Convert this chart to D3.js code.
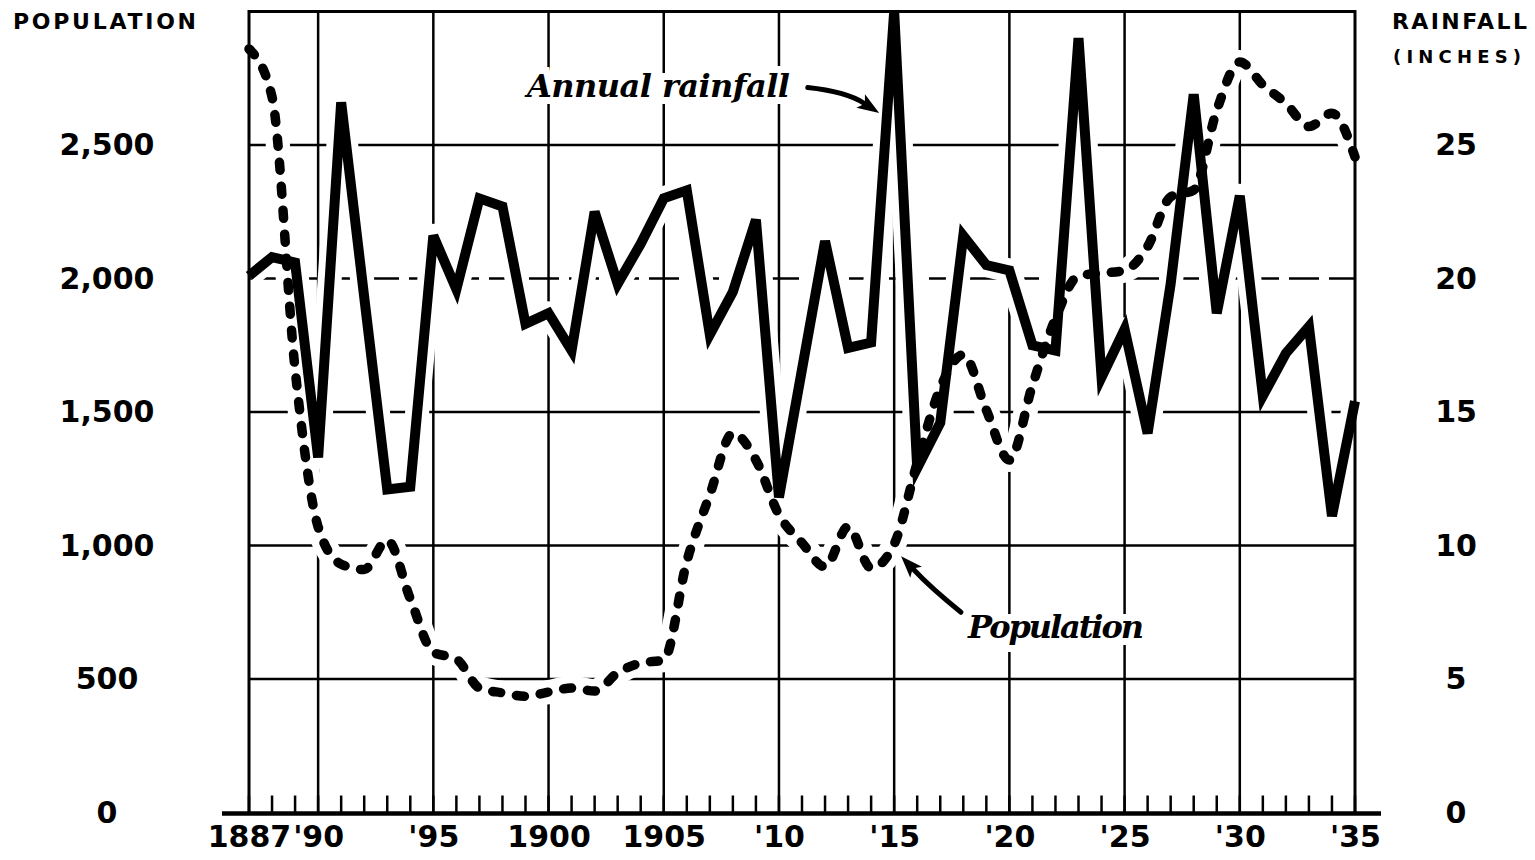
<!DOCTYPE html>
<html>
<head>
  <meta charset="utf-8">
  <title>Population and Annual Rainfall, 1887-1935</title>
  <script src="https://d3js.org/d3.v7.min.js"></script>
  <style>
    body {
      margin: 0;
      background: #fff;
    }

    .axis-label {
      font-family: "DejaVu Sans", sans-serif;
      font-weight: bold;
      fill: #000;
    }

    .note {
      font-family: "DejaVu Serif", serif;
      font-style: italic;
      font-weight: bold;
      fill: #000;
    }

    .note.halo {
      fill: #fff;
      stroke: #fff;
      stroke-width: 14px;
    }
  </style>
</head>
<body>
  <svg id="chart" width="1535" height="860"></svg>

  <script type="text/javascript">
    /* Values */
    var years = d3.range(1887, 1936);

    var rainfall = [
      20.1, 20.8, 20.6, 13.3, 26.6, 19.3, 12.1, 12.2, 21.6, 19.6,
      23.0, 22.7, 18.3, 18.7, 17.3, 22.5, 19.8, 21.3, 23.0, 23.3,
      17.9, 19.5, 22.2, 11.8, 16.6, 21.4, 17.4, 17.6, 30.0, 12.9,
      14.6, 21.6, 20.5, 20.3, 17.5, 17.3, 29.0, 16.3, 18.1, 14.2,
      19.8, 26.9, 18.7, 23.1, 15.6, 17.2, 18.2, 11.1, 15.4
    ];

    var population = [
      2860, 2680, 1660, 1070, 930, 910, 1020, 800, 600, 575,
      466, 448, 435, 451, 466, 455, 523, 560, 571, 940,
      1190, 1421, 1320, 1115, 1010, 920, 1070, 915, 1005, 1310,
      1590, 1715, 1507, 1320, 1600, 1850, 2010, 2020, 2030, 2120,
      2306, 2331, 2630, 2811, 2725, 2656, 2569, 2619, 2455
    ];

    var yearTicks = [1887, 1890, 1895, 1900, 1905, 1910, 1915, 1920, 1925, 1930, 1935];
    var yearLabels = ["1887", "'90", "'95", "1900", "1905", "'10", "'15", "'20", "'25", "'30", "'35"];
    var popTicks = [0, 500, 1000, 1500, 2000, 2500];
    var rainTicks = [0, 5, 10, 15, 20, 25];

    var rainNote = "Annual rainfall";
    var popNote = "Population";

    var svg = d3.select("#chart");

    /* Scales: both y scales share the same pixel range */
    var x = d3.scaleLinear().domain([1887, 1935]).range([249, 1355]);
    var yPop = d3.scaleLinear().domain([0, 3000]).range([812.5, 11.5]);
    var yRain = d3.scaleLinear().domain([0, 30]).range([812.5, 11.5]);

    var rows = years.map(function(d, i) {
      return { year: d, rain: rainfall[i], pop: population[i] };
    });

    /* Grid */
    var grid = svg.append("g").attr("stroke", "#000").attr("stroke-width", 2.5);

    grid.selectAll("line.h")
        .data(popTicks.filter(function(d) { return d > 0; }))
        .enter().append("line")
        .attr("class", "h")
        .attr("x1", x(1887)).attr("x2", x(1935))
        .attr("y1", function(d) { return yPop(d); })
        .attr("y2", function(d) { return yPop(d); })
        .attr("stroke-dasharray", function(d) { return d === 2000 ? "30,10" : null; });

    grid.selectAll("line.v")
        .data(yearTicks.slice(1, -1))
        .enter().append("line")
        .attr("class", "v")
        .attr("x1", function(d) { return x(d); })
        .attr("x2", function(d) { return x(d); })
        .attr("y1", yPop(3000)).attr("y2", yPop(0));

    /* Lines */
    var rainLine = d3.line()
        .x(function(d) { return x(d.year); })
        .y(function(d) { return yRain(d.rain); });

    var popLine = d3.line()
        .curve(d3.curveMonotoneX)
        .x(function(d) { return x(d.year); })
        .y(function(d) { return yPop(d.pop); });

    // white halo so the grid breaks around the curves, as in the print
    [rainLine, popLine].forEach(function(l) {
      svg.append("path")
         .datum(rows)
         .attr("d", l)
         .attr("fill", "none")
         .attr("stroke", "#fff")
         .attr("stroke-width", 24)
         .attr("stroke-linejoin", "round");
    });

    /* Frame, baseline and yearly ticks */
    var frame = svg.append("g").attr("stroke", "#000");

    frame.append("path")
         .attr("d", "M" + x(1887) + "," + yPop(0) + "V" + yPop(3000) +
                    "H" + x(1935) + "V" + yPop(0))
         .attr("fill", "none")
         .attr("stroke-width", 3);

    frame.append("line")
         .attr("x1", 222).attr("x2", 1381)
         .attr("y1", yPop(0) + 1).attr("y2", yPop(0) + 1)
         .attr("stroke-width", 4.5);

    frame.selectAll("line.tick")
         .data(years)
         .enter().append("line")
         .attr("class", "tick")
         .attr("x1", function(d) { return x(d); })
         .attr("x2", function(d) { return x(d); })
         .attr("y1", yPop(0))
         .attr("y2", yPop(0) - 17)
         .attr("stroke-width", 2.5);

    svg.append("path")
       .datum(rows)
       .attr("d", rainLine)
       .attr("fill", "none")
       .attr("stroke", "#000")
       .attr("stroke-width", 10);

    svg.append("path")
       .datum(rows)
       .attr("d", popLine)
       .attr("fill", "none")
       .attr("stroke", "#000")
       .attr("stroke-width", 9.5)
       .attr("stroke-linecap", "round")
       .attr("stroke-dasharray", "8,16");

    /* Axes */
    var xAxis = svg.append("g")
        .attr("transform", "translate(0," + yPop(0) + ")")
        .call(d3.axisBottom(x)
                .tickValues(yearTicks)
                .tickSize(0)
                .tickFormat(function(d, i) { return yearLabels[i]; }));

    var leftAxis = svg.append("g")
        .attr("transform", "translate(107,0)")
        .call(d3.axisLeft(yPop)
                .tickValues(popTicks)
                .tickSize(0)
                .tickFormat(d3.format(",")));

    var rightAxis = svg.append("g")
        .attr("transform", "translate(1456,0)")
        .call(d3.axisRight(yRain)
                .tickValues(rainTicks)
                .tickSize(0));

    [xAxis, leftAxis, rightAxis].forEach(function(a) {
      a.select(".domain").remove();
      a.selectAll("text")
       .attr("class", "axis-label")
       .attr("font-family", null)
       .style("font-size", "30px");
    });

    xAxis.selectAll("text").attr("y", 13).attr("dy", "0.71em");
    leftAxis.selectAll("text").attr("x", 0).attr("text-anchor", "middle");
    rightAxis.selectAll("text").attr("x", 0).attr("text-anchor", "middle");

    svg.append("text")
       .attr("class", "axis-label")
       .attr("x", 13).attr("y", 29)
       .style("font-size", "22px")
       .attr("textLength", 183)
       .text("POPULATION");

    svg.append("text")
       .attr("class", "axis-label")
       .attr("x", 1392).attr("y", 29)
       .style("font-size", "22px")
       .attr("textLength", 135)
       .text("RAINFALL");

    svg.append("text")
       .attr("class", "axis-label")
       .attr("x", 1393).attr("y", 63)
       .style("font-size", "18px")
       .attr("textLength", 128)
       .text("(INCHES)");

    /* Annotations: curved shaft plus a filled head */
    function arrow(x0, y0, cx, cy, x1, y1) {
      var dx = x1 - cx, dy = y1 - cy,
          len = Math.sqrt(dx * dx + dy * dy),
          ux = dx / len, uy = dy / len,
          bx = x1 - ux * 22, by = y1 - uy * 22,
          nx = -uy, ny = ux;

      svg.append("path")
         .attr("d", "M" + x0 + "," + y0 + "Q" + cx + "," + cy + " " +
                    (bx + ux * 4) + "," + (by + uy * 4))
         .attr("fill", "none")
         .attr("stroke", "#000")
         .attr("stroke-width", 5)
         .attr("stroke-linecap", "round");

      svg.append("path")
         .attr("d", "M" + x1 + "," + y1 +
                    "L" + (bx + nx * 8) + "," + (by + ny * 8) +
                    "L" + (bx + ux * 5) + "," + (by + uy * 5) +
                    "L" + (bx - nx * 8) + "," + (by - ny * 8) + "Z")
         .attr("fill", "#000");
    }

    arrow(x(1911.25), yRain(27.15),
          x(1912.9), yRain(27.0),
          x(1914.35), yRain(26.2));

    arrow(x(1917.9), yPop(750),
          x(1916.6), yPop(840),
          x(1915.3), yPop(960));

    [[rainNote, 527, 97, 263], [popNote, 968, 638, 176]].forEach(function(n) {
      svg.append("text")
         .attr("class", "note halo")
         .attr("x", n[1]).attr("y", n[2])
         .style("font-size", "32px")
         .attr("textLength", n[3])
         .text(n[0]);
      svg.append("text")
         .attr("class", "note")
         .attr("x", n[1]).attr("y", n[2])
         .style("font-size", "32px")
         .attr("textLength", n[3])
         .text(n[0]);
    });
  </script>
</body>
</html>
